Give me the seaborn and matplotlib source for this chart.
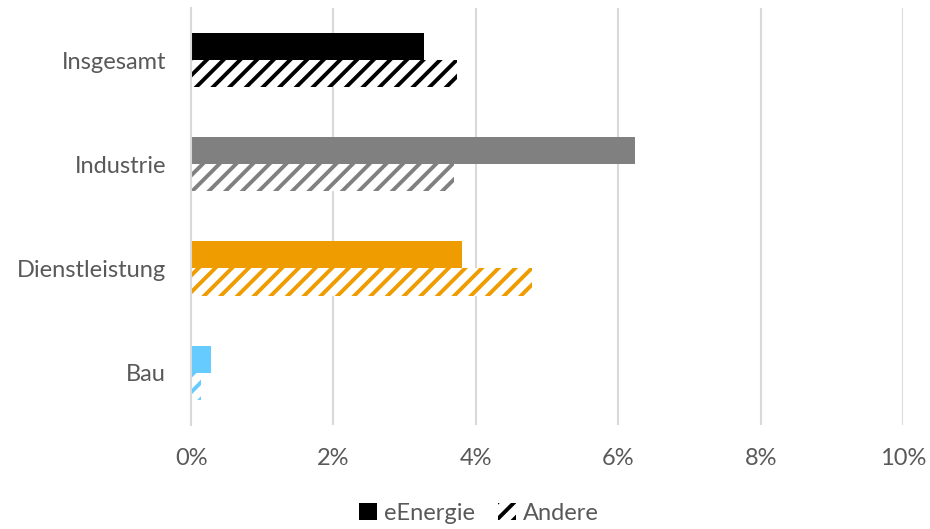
import matplotlib
matplotlib.use("Agg")
import matplotlib.pyplot as plt
import seaborn as sns
import pandas as pd
from matplotlib.patches import Patch
from matplotlib.ticker import FuncFormatter

categories = ["Insgesamt", "Industrie", "Dienstleistung", "Bau"]
series = ["eEnergie", "Andere"]
eenergie = [3.27, 6.23, 3.80, 0.28]
andere = [3.73, 3.69, 4.79, 0.14]
cat_colors = ["#000000", "#808080", "#EE9C00", "#66CCFF"]
xticks = [0, 2, 4, 6, 8, 10]

df = pd.DataFrame({
    "cat": categories * 2,
    "series": [series[0]] * 4 + [series[1]] * 4,
    "val": eenergie + andere,
})

sns.set_style("white")
plt.rcParams["font.family"] = ["Lato", "DejaVu Sans"]
plt.rcParams["hatch.linewidth"] = 2.8

fig = plt.figure(figsize=(9.3, 5.29), dpi=100)
ax = fig.add_axes([0.2055, 0.197, 0.7655, 0.788])

sns.barplot(data=df, y="cat", x="val", hue="series", orient="h",
            order=categories, hue_order=series, width=0.52,
            ax=ax, legend=False, errorbar=None)

for ci, cont in enumerate(ax.containers):
    for i, bar in enumerate(cont):
        col = cat_colors[i]
        if ci == 0:
            bar.set_facecolor(col)
            bar.set_edgecolor(col)
            bar.set_linewidth(0)
        else:
            bar.set_facecolor("white")
            bar.set_edgecolor(col)
            bar.set_hatch("//")
            bar.set_linewidth(0)

ax.set_xlim(0, 10)
ax.set_xticks(xticks)
ax.xaxis.set_major_formatter(FuncFormatter(lambda v, p: f"{v:.0f}%"))
ax.grid(axis="x", color="#D9D9D9", linewidth=1.5)
ax.set_axisbelow(True)
for s in ["top", "right", "bottom"]:
    ax.spines[s].set_visible(False)
ax.spines["left"].set_color("#D9D9D9")
ax.spines["left"].set_linewidth(1.5)
ax.tick_params(axis="both", length=0, labelsize=17, colors="#595959")
ax.tick_params(axis="y", pad=18)
ax.tick_params(axis="x", pad=17)
ax.set_xlabel("")
ax.set_ylabel("")

handles = [Patch(facecolor="black", edgecolor="black", linewidth=0),
           Patch(facecolor="white", edgecolor="black", hatch="//", linewidth=0)]
fig.legend(handles, series, loc="lower center", bbox_to_anchor=(0.515, -0.03),
           ncol=2, frameon=False, fontsize=17, labelcolor="#595959",
           handlelength=0.75, handleheight=0.75, handletextpad=0.3, columnspacing=1.0)

fig.savefig("out.png", dpi=100)
